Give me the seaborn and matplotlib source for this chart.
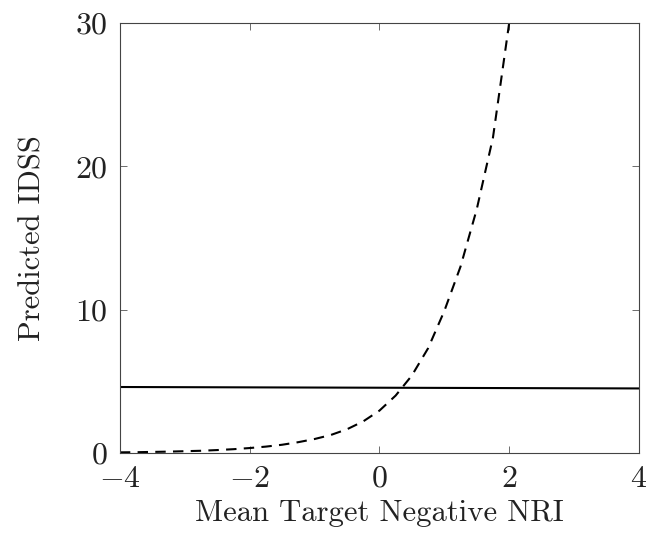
import numpy as np
import pandas as pd
import seaborn as sns
import matplotlib.pyplot as plt

# values
x_flat = [-4, 4]
y_flat = [4.6, 4.5]

x_curve = [-4, -3.75, -3.5, -3.25, -3, -2.75, -2.5, -2.25, -2, -1.75, -1.5, -1.25,
           -1, -0.75, -0.5, -0.25, 0, 0.25, 0.5, 0.75, 1, 1.25, 1.5, 1.75, 2]
y_curve = [0.04, 0.05, 0.07, 0.09, 0.12, 0.15, 0.20, 0.26, 0.34, 0.44, 0.57, 0.75,
           0.97, 1.25, 1.65, 2.2, 2.95, 4.0, 5.4, 7.3, 9.9, 13.0, 17.0, 22.0, 30.0]

x_ticks = [-4, -2, 0, 2, 4]
y_ticks = [0, 10, 20, 30]

sns.set_style("ticks")
plt.rcParams['font.family'] = ['cmr10']
plt.rcParams['mathtext.fontset'] = 'cm'
plt.rcParams['axes.formatter.use_mathtext'] = True

fig = plt.figure(figsize=(6.48, 5.36), dpi=100)
ax = fig.add_axes([0.185, 0.155, 0.801, 0.802])

flat = pd.DataFrame({"x": x_flat, "y": y_flat})
curve = pd.DataFrame({"x": x_curve, "y": y_curve})
sns.lineplot(data=flat, x="x", y="y", ax=ax, color="black", linewidth=1.5)
sns.lineplot(data=curve, x="x", y="y", ax=ax, color="black", linewidth=1.5,
             linestyle=(0, (5, 3.5)))

ax.set_xlim(-4, 4)
ax.set_ylim(0, 30)
ax.set_xticks(x_ticks)
ax.set_yticks(y_ticks)
ax.set_xlabel("Mean Target Negative NRI", fontsize=22, labelpad=5, color="#222222")
ax.set_ylabel("Predicted IDSS", fontsize=22, labelpad=20, color="#222222")
ax.tick_params(direction="in", top=True, right=True, length=5, width=0.6,
               colors="#555555", labelcolor="#222222", labelsize=23)
ax.tick_params(axis="x", pad=9)
ax.tick_params(axis="y", pad=9)
for s in ax.spines.values():
    s.set_linewidth(0.8)
    s.set_color("#444444")

fig.savefig("out.png", dpi=100)
